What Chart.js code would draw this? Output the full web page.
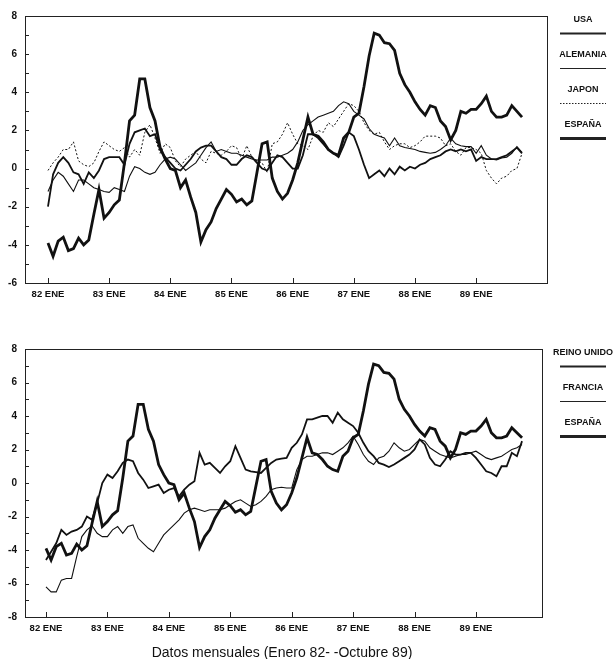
<!DOCTYPE html>
<html>
<head>
<meta charset="utf-8">
<script src="https://cdn.jsdelivr.net/npm/chart.js@4.4.0/dist/chart.umd.min.js"></script>
<style>
body{margin:0;background:#fff;width:613px;height:659px;overflow:hidden;position:relative;font-family:"Liberation Sans",Arial,sans-serif}
#c1{position:absolute;left:0;top:0}
#c2{position:absolute;left:0;top:330px}
#nota{position:absolute;left:0;width:564px;top:645px;text-align:center;font-size:14px;line-height:14px;color:#111}
</style>
</head>
<body>
<canvas id="c1" width="613" height="330"></canvas>
<canvas id="c2" width="613" height="329"></canvas>
<div id="nota">Datos mensuales (Enero 82- -Octubre 89)</div>
<script>
// eje x: meses desde enero 82 (0) hasta octubre 89 (93)
var etiquetasAnio = ["82 ENE", "83 ENE", "84 ENE", "85 ENE", "86 ENE", "87 ENE", "88 ENE", "89 ENE"];
var ticksAnio = [0, 12, 24, 36, 48, 60, 72, 84];

var usa = [
  -2.0, -0.3, 0.3, 0.6, 0.3, -0.2, -0.3, -0.8, -0.2, -0.5, -0.1, 0.5,
  0.6, 0.6, 0.6, 0.2, 1.3, 1.9, 2.0, 2.1, 1.7, 1.8, 1.0, 0.6,
  0.3, 0.0, -0.1, 0.2, 0.5, 0.9, 1.1, 1.2, 1.2, 0.9, 0.6, 0.5,
  0.2, 0.2, 0.5, 0.7, 0.6, 0.3, 0.0, -0.1, 0.3, 0.7, 0.6, 0.3,
  0.0, 0.0, 0.7, 1.8, 1.8, 1.6, 1.3, 1.0, 0.8, 0.6, 1.2, 1.9,
  1.7, 1.0, 0.2, -0.5, -0.3, -0.1, -0.4, 0.0, -0.3, 0.1, -0.1, 0.1,
  0.0, 0.2, 0.3, 0.5, 0.6, 0.7, 0.9, 1.0, 0.9, 1.0, 0.9, 1.0,
  0.4, 0.6, 0.5, 0.5, 0.5, 0.6, 0.7, 0.9, 1.1, 0.8
];
var alemania = [
  -1.2, -0.6, -0.2, -0.4, -0.8, -1.2, -0.6, -0.6, -0.8, -1.0, -1.1, -1.2,
  -1.25, -1.0, -1.1, -1.2, -0.4, 0.1, 0.0, -0.2, -0.3, -0.2, 0.2, 0.5,
  0.6, 0.5, 0.2, -0.1, 0.1, 0.3, 0.7, 1.1, 1.4, 0.9, 1.0, 0.9,
  0.8, 0.8, 0.7, 0.6, 0.5, 0.45, 0.45, 0.45, 0.6, 0.6, 0.7, 0.8,
  1.0, 1.4, 2.0, 2.3, 2.5, 2.7, 2.8, 2.9, 3.0, 3.3, 3.5, 3.4,
  3.0, 2.8, 2.6, 2.1, 1.8, 1.7, 1.6, 1.2, 1.6, 1.2, 1.1, 1.05,
  1.0, 0.9, 0.85, 0.8, 0.85, 1.0, 1.2, 1.6, 1.3, 1.2, 1.15, 1.15,
  0.8, 1.2, 0.7, 0.5, 0.45, 0.55, 0.6, 0.8, 1.15, 0.85
];
var japon = [
  -0.1, 0.3, 0.6, 1.0, 1.0, 1.4, 0.4, 0.2, 0.1, 0.3, 0.9, 1.4,
  1.2, 1.0, 0.9, 1.1, 0.6, 1.0, 0.7, 1.9, 2.3, 1.6, 0.8, 1.3,
  1.1, 0.4, 0.1, 0.5, 0.7, 0.9, 0.5, 0.3, 0.9, 0.8, 0.7, 0.9,
  1.2, 1.1, 0.5, 1.2, 0.6, 0.4, 0.3, -0.2, 1.3, 1.4, 1.8, 2.4,
  1.8, 1.3, 1.2, 1.0, 1.7, 2.0, 1.9, 2.4, 2.2, 2.6, 3.0, 3.4,
  3.3, 3.0, 2.4, 2.0, 1.8, 1.9, 1.4, 1.0, 1.2, 1.3, 1.3, 1.1,
  1.2, 1.4, 1.7, 1.7, 1.7, 1.6, 1.2, 1.3, 0.9, 0.7, 1.1, 1.1,
  1.0, 0.8, -0.1, -0.5, -0.8, -0.5, -0.4, -0.1, 0.0, 0.8
];
var espana = [
  -3.9, -4.6, -3.8, -3.6, -4.3, -4.2, -3.65, -4.0, -3.75, -2.4, -1.1, -2.6,
  -2.3, -1.9, -1.65, 0.3, 2.5, 2.8, 4.7, 4.7, 3.2, 2.5, 1.1, 0.5,
  0.0, -0.1, -1.0, -0.6, -1.5, -2.3, -3.85, -3.2, -2.8, -2.1, -1.6, -1.1,
  -1.35, -1.75, -1.6, -1.9, -1.7, -0.2, 1.3, 1.4, -0.5, -1.2, -1.6, -1.3,
  -0.6, 0.3, 1.5, 2.7, 1.8, 1.7, 1.4, 1.0, 0.8, 0.7, 1.6, 1.9,
  2.7, 2.9, 4.3, 5.9, 7.1, 7.0, 6.6, 6.55, 6.2, 5.0, 4.4, 4.0,
  3.5, 3.1, 2.8, 3.3, 3.2, 2.5, 2.2, 1.5, 2.0, 3.0, 2.9, 3.1,
  3.1, 3.4, 3.8, 3.0, 2.7, 2.7, 2.8, 3.3, 3.0, 2.7
];
var reinoUnido = [
  -4.6, -4.1, -3.6, -2.8, -3.1, -2.9, -2.8, -2.6, -2.0, -2.2, -1.2, 0.0,
  0.5, 0.3, 0.7, 1.2, 1.4, 1.3, 0.6, 0.2, -0.3, -0.2, -0.1, -0.6,
  -0.4, -0.3, -0.8, -0.4, -0.1, 0.1, 1.8, 1.1, 1.2, 0.9, 0.6, 1.0,
  1.3, 2.2, 1.5, 0.8, 0.7, 0.65, 0.6, 0.9, 1.2, 1.4, 1.45, 1.5,
  2.1, 2.4, 2.9, 3.8, 3.8, 3.9, 4.0, 4.0, 3.6, 4.2, 3.8, 3.6,
  3.4, 3.0, 2.4, 1.9, 1.6, 1.2, 1.1, 0.95, 1.1, 1.3, 1.5, 1.7,
  2.0, 2.6, 2.3, 1.5, 1.1, 1.0, 1.4, 1.9, 1.7, 1.7, 1.8, 1.8,
  1.5, 1.1, 0.7, 0.6, 0.4, 1.0, 1.0, 1.8, 1.6, 2.5
];
var francia = [
  -6.2, -6.5, -6.5, -5.8, -5.7, -5.7, -4.4, -3.2, -2.8, -2.55, -3.0, -3.2,
  -3.2, -2.8, -2.6, -3.0, -2.6, -2.5, -3.3, -3.6, -3.9, -4.1, -3.6, -3.1,
  -2.8, -2.5, -2.2, -1.8, -1.6, -1.5, -1.6, -1.7, -1.6, -1.6, -1.6, -1.5,
  -1.3, -1.1, -1.0, -1.2, -1.4, -1.3, -1.1, -0.8, -0.4, -0.3, -0.25, -0.3,
  -0.3, 0.8, 1.4, 1.6, 1.6, 1.7, 1.8, 1.8, 1.7, 1.9, 2.1, 2.4,
  2.8, 2.3, 1.7, 1.3, 1.1, 1.5, 1.6, 1.9, 2.4, 2.1, 1.9, 2.0,
  2.3, 2.6, 2.5, 2.1, 1.9, 1.7, 1.6, 1.5, 1.6, 1.7, 1.7, 1.8,
  1.9, 1.7, 1.5, 1.4, 1.5, 1.6, 1.8, 2.0, 2.1, 2.3
];

Chart.defaults.font.family = '"Liberation Sans", Arial, sans-serif';
Chart.defaults.color = '#111';

function serie(valores) {
  var pts = [];
  for (var i = 0; i < valores.length; i++) pts.push({x: i, y: valores[i]});
  return pts;
}

function linea(nombre, valores, ancho, guion) {
  return {
    label: nombre,
    data: serie(valores),
    borderColor: '#111',
    borderWidth: ancho,
    borderDash: guion || [],
    pointRadius: 0,
    tension: 0,
    fill: false
  };
}

// marco, marcas interiores y leyenda a la derecha
var marco = {
  id: 'marco',
  afterDraw: function(chart, args, opts) {
    var c = chart.ctx, a = chart.chartArea;
    var xs = chart.scales.x, ys = chart.scales.y;
    c.save();
    c.strokeStyle = '#222';
    c.lineWidth = 1;
    c.strokeRect(a.left + 0.5, a.top + 0.5, a.right - a.left, a.bottom - a.top);
    c.beginPath();
    ys.ticks.forEach(function(t) {
      var p = Math.round(ys.getPixelForValue(t.value)) + 0.5;
      c.moveTo(a.left, p); c.lineTo(a.left + 4, p);
    });
    ticksAnio.forEach(function(v) {
      var p = Math.round(xs.getPixelForValue(v)) + 0.5;
      c.moveTo(p, a.bottom); c.lineTo(p, a.bottom - 5);
    });
    c.stroke();

    c.font = 'bold 9px "Liberation Sans", Arial, sans-serif';
    c.textAlign = 'center';
    c.textBaseline = 'middle';
    chart.data.datasets.forEach(function(ds, i) {
      var y = opts.top + i * 35;
      c.fillStyle = '#111';
      c.fillText(ds.label, 583, y);
      c.beginPath();
      c.lineWidth = ds.borderWidth;
      c.setLineDash(ds.borderDash.length ? [1.5, 1.5] : []);
      c.moveTo(560, y + 13.5); c.lineTo(606, y + 13.5);
      c.stroke();
    });
    c.restore();
  }
};

function opciones(minX, maxX, minY, maxY, padTop, padRight, altoX, leyTop) {
  return {
    responsive: false,
    animation: false,
    layout: {padding: {top: padTop, right: padRight, left: 0, bottom: 0}},
    plugins: {legend: {display: false}, tooltip: {enabled: false}, marco: {top: leyTop}},
    scales: {
      x: {
        type: 'linear', min: minX, max: maxX,
        grid: {display: false, drawTicks: false}, border: {display: false},
        afterBuildTicks: function(s) { s.ticks = ticksAnio.map(function(v) { return {value: v}; }); },
        afterFit: function(s) { s.height = altoX; },
        ticks: {
          autoSkip: false, maxRotation: 0, padding: 6,
          font: {size: 9.5, weight: 'bold'},
          callback: function(v) { return etiquetasAnio[ticksAnio.indexOf(v)]; }
        }
      },
      y: {
        min: minY, max: maxY,
        grid: {display: false, drawTicks: false}, border: {display: false},
        afterFit: function(s) { s.width = 25; },
        ticks: {
          stepSize: 1, padding: 8,
          font: {size: 10, weight: 'bold'},
          callback: function(v) { return v % 2 === 0 ? String(v) : ''; }
        }
      }
    }
  };
}

var graf1 = new Chart(document.getElementById('c1').getContext('2d'), {
  type: 'line',
  data: {
    datasets: [
      linea('USA', usa, 1.8),
      linea('ALEMANIA', alemania, 1.1),
      linea('JAPON', japon, 1, [2, 2]),
      linea('ESPAÑA', espana, 2.8)
    ]
  },
  options: opciones(-4.51, 97.9, -6, 8, 16, 66, 47, 20),
  plugins: [marco]
});

var graf2 = new Chart(document.getElementById('c2').getContext('2d'), {
  type: 'line',
  data: {
    datasets: [
      linea('REINO UNIDO', reinoUnido, 1.8),
      linea('FRANCIA', francia, 1.1),
      linea('ESPAÑA', espana, 2.8)
    ]
  },
  options: opciones(-4.1, 96.9, -8, 8, 19, 71, 42, 23),
  plugins: [marco]
});
</script>
</body>
</html>
